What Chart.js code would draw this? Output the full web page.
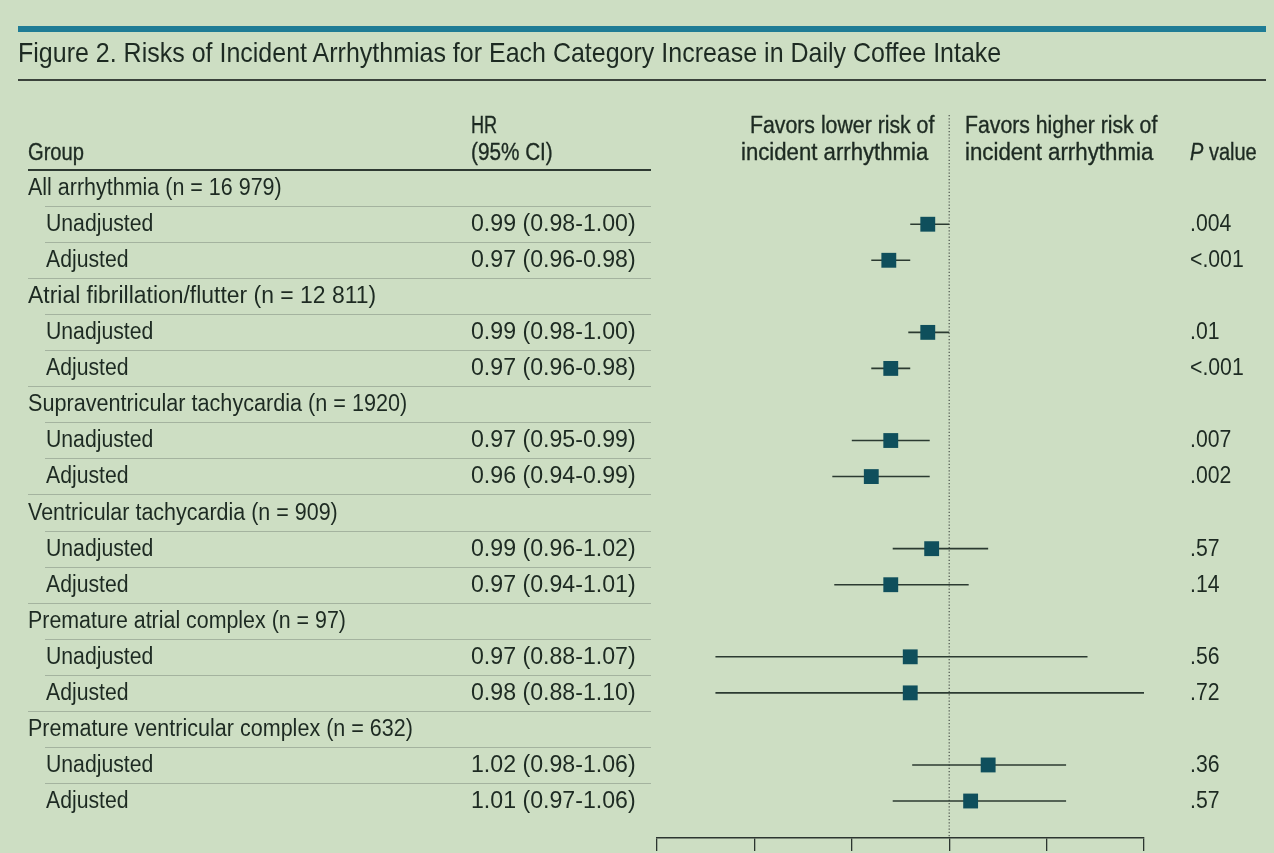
<!DOCTYPE html>
<html><head><meta charset="utf-8">
<script src="https://cdn.jsdelivr.net/npm/chart.js@4.4.0/dist/chart.umd.min.js"></script>
<style>
html,body{margin:0;padding:0;background:#cddec3;}
#page{position:relative;width:1274px;height:853px;overflow:hidden;background:#cddec3;font-family:"Liberation Sans",Arial,sans-serif;color:#1d2a22;}
.t{position:absolute;white-space:nowrap;line-height:30px;height:30px;transform-origin:0 50%;font-size:23px;}
.h{-webkit-text-stroke:0.35px #1d2a22;}
.rule{position:absolute;}
canvas{position:absolute;left:0;top:0;}
</style></head><body>
<div id="page"><canvas id="c" width="1274" height="853"></canvas></div>
<script>
// ---- data ----
const titleText = "Figure 2. Risks of Incident Arrhythmias for Each Category Increase in Daily Coffee Intake";
const rowLabels = [
  "All arrhythmia (n = 16 979)", "Unadjusted", "Adjusted",
  "Atrial fibrillation/flutter (n = 12 811)", "Unadjusted", "Adjusted",
  "Supraventricular tachycardia (n = 1920)", "Unadjusted", "Adjusted",
  "Ventricular tachycardia (n = 909)", "Unadjusted", "Adjusted",
  "Premature atrial complex (n = 97)", "Unadjusted", "Adjusted",
  "Premature ventricular complex (n = 632)", "Unadjusted", "Adjusted"
];
const rowIsGroup = [1,0,0, 1,0,0, 1,0,0, 1,0,0, 1,0,0, 1,0,0];
const hrLabels = [
  "", "0.99 (0.98-1.00)", "0.97 (0.96-0.98)",
  "", "0.99 (0.98-1.00)", "0.97 (0.96-0.98)",
  "", "0.97 (0.95-0.99)", "0.96 (0.94-0.99)",
  "", "0.99 (0.96-1.02)", "0.97 (0.94-1.01)",
  "", "0.97 (0.88-1.07)", "0.98 (0.88-1.10)",
  "", "1.02 (0.98-1.06)", "1.01 (0.97-1.06)"
];
const pLabels = [
  "", ".004", "<.001",
  "", ".01", "<.001",
  "", ".007", ".002",
  "", ".57", ".14",
  "", ".56", ".72",
  "", ".36", ".57"
];
// plotted values
const hrPoint = [null, 0.989, 0.969, null, 0.989, 0.970, null, 0.970, 0.960, null, 0.991, 0.970, null, 0.980, 0.980, null, 1.020, 1.011];
const ciLow   = [null, 0.980, 0.960, null, 0.979, 0.960, null, 0.950, 0.940, null, 0.971, 0.941, null, 0.880, 0.880, null, 0.981, 0.971];
const ciHigh  = [null, 1.000, 0.980, null, 1.000, 0.980, null, 0.990, 0.990, null, 1.020, 1.010, null, 1.071, 1.100, null, 1.060, 1.060];
const xMin = 0.85, xMax = 1.10, xStep = 0.05, refValue = 1.0;
const groupWidths = [254, 348, 379, 310, 318, 385];

// ---- layout helpers ----
const page = document.getElementById('page');
const rowY = r => 188 + r * 36.06;
const texts = [];
function addText(str, x, yc, opts = {}) {
  const d = document.createElement('div');
  d.className = 't' + (opts.cls ? ' ' + opts.cls : '');
  if (opts.html) d.innerHTML = str; else d.textContent = str;
  const fs = opts.fs || 23;
  d.style.fontSize = fs + 'px';
  d.style.left = x + 'px';
  d.style.top = (yc - 15) + 'px';
  page.appendChild(d);
  texts.push({ el: d, w: opts.w, ref: opts.ref });
  return d;
}
function addRule(x, y, w, h, color) {
  const d = document.createElement('div');
  d.className = 'rule';
  Object.assign(d.style, { left: x + 'px', top: y + 'px', width: w + 'px', height: h + 'px', background: color });
  page.appendChild(d);
}

addRule(18, 26, 1248, 6, '#1f7c95');
addRule(18, 79, 1248, 2, '#3a423b');
addText(titleText, 18, 53, { fs: 28, w: 983 });

addText("Group", 28, 152, { w: 56, cls: 'h' });
addText("HR", 471, 125, { w: 26, cls: 'h' });
addText("(95% CI)", 471, 152, { w: 82, cls: 'h' });
addText("Favors lower risk of", 750, 125, { w: 184, cls: 'h' });
addText("incident arrhythmia", 741, 152, { w: 187, cls: 'h' });
addText("Favors higher risk of", 965, 125, { w: 192, cls: 'h' });
addText("incident arrhythmia", 965, 152, { w: 188, cls: 'h' });
addText("<i>P</i> value", 1190, 152, { w: 67, cls: 'h', html: true });
addRule(28, 169, 623, 2, '#2e3a32');

let g = 0;
rowLabels.forEach((lab, r) => {
  const y = rowY(r) - 1;
  if (rowIsGroup[r]) {
    addText(lab, 28, y, { w: groupWidths[g++] });
  } else {
    addText(lab, 46, y, { w: lab === 'Unadjusted' ? 107 : 83 });
    addText(hrLabels[r], 471, y, { w: 165 });
    addText(pLabels[r], 1190, y, { ref: true });
  }
  if (r < rowLabels.length - 1) {
    const endGroup = rowIsGroup[r + 1] === 1;
    const x0 = endGroup ? 28 : 45;
    addRule(x0, Math.round(rowY(r) + 18), 651 - x0, 1, '#a4b39f');
  }
});

function fitTexts() {
  let ref = 1;
  const u = texts.find(t => t.el.textContent === 'Unadjusted');
  if (u) ref = 107 / u.el.offsetWidth;
  texts.forEach(t => {
    const nat = t.el.offsetWidth;
    let s = t.w ? t.w / nat : ref;
    t.el.style.transform = 'scaleX(' + s.toFixed(4) + ')';
  });
}
if (document.fonts && document.fonts.ready) document.fonts.ready.then(fitTexts); else fitTexts();
fitTexts();

// ---- chart ----
const yMin = -2.03, yMax = 18.026;
const datasets = [];
datasets.push({
  label: 'HR', type: 'scatter',
  data: hrPoint.map((v, i) => v == null ? null : { x: v, y: i }).filter(p => p),
  pointStyle: 'rect', pointRadius: 10.5, pointHoverRadius: 10.5,
  backgroundColor: '#0f4f5c', borderWidth: 0, showLine: false, clip: false
});
hrPoint.forEach((v, i) => {
  if (v == null) return;
  datasets.push({
    label: 'CI ' + i, type: 'line',
    data: [{ x: ciLow[i], y: i }, { x: ciHigh[i], y: i }],
    borderColor: '#2b3a31', borderWidth: 1.6, pointRadius: 0, fill: false, clip: false
  });
});
datasets.push({
  label: 'ref', type: 'line',
  data: [{ x: refValue, y: yMin }, { x: refValue, y: yMax }],
  borderColor: '#4a524c', borderWidth: 1.2, borderDash: [1.2, 2], pointRadius: 0, fill: false
});

new Chart(document.getElementById('c'), {
  type: 'scatter',
  data: { datasets },
  options: {
    responsive: false, animation: false, devicePixelRatio: 1,
    layout: { padding: { left: 657, right: 130, top: 115, bottom: 0 } },
    plugins: { legend: { display: false }, tooltip: { enabled: false } },
    scales: {
      x: {
        type: 'linear', min: xMin, max: xMax,
        ticks: { stepSize: xStep, display: false },
        grid: { drawOnChartArea: false, drawTicks: true, tickLength: 13, color: '#2c3530', lineWidth: 1.3 },
        border: { display: true, color: '#2c3530', width: 1.5 },
        afterFit: s => { s.height = 15; }
      },
      y: { type: 'linear', reverse: true, min: yMin, max: yMax, display: false }
    }
  }
});
</script>
</body></html>
